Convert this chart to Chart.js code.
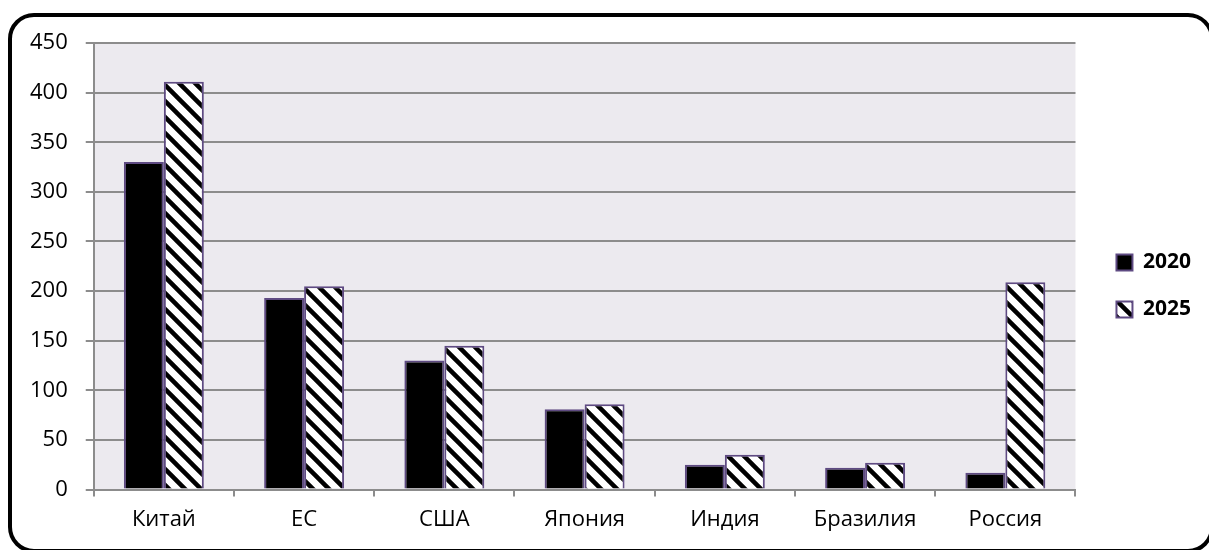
<!DOCTYPE html>
<html>
<head>
<meta charset="utf-8">
<script src="https://cdn.jsdelivr.net/npm/chart.js@4.4.1/dist/chart.umd.min.js"></script>
<style>
  html, body { margin: 0; padding: 0; background: #fff; overflow: hidden; }
  #wrap { position: relative; width: 1209px; height: 550px; }
  #frame {
    position: absolute; left: 8px; top: 13px; width: 1206px; height: 540px;
    box-sizing: border-box; border: 4px solid #000; border-radius: 26px;
    pointer-events: none;
  }
</style>
</head>
<body>
<div id="wrap">
  <canvas id="chart" width="1209" height="550"></canvas>
  <div id="frame"></div>
</div>
<script>
const categories = ["Китай", "ЕС", "США", "Япония", "Индия", "Бразилия", "Россия"];
const values2020 = [330, 193, 130, 81, 25, 22, 17];
const values2025 = [411, 205, 145, 86, 35, 27, 209];
const seriesLabels = ["2020", "2025"];

// downward diagonal hatch like Excel's "wide downward diagonal"
function makeHatch() {
  const c = document.createElement("canvas");
  c.width = 16;
  c.height = 16;
  const g = c.getContext("2d");
  g.fillStyle = "#fff";
  g.fillRect(0, 0, 16, 16);
  g.strokeStyle = "#000";
  g.lineWidth = 4.5;
  g.beginPath();
  for (let k = -16; k <= 16; k += 16) {
    g.moveTo(k - 4, -4);
    g.lineTo(k + 20, 20);
  }
  g.stroke();
  return g.createPattern(c, "repeat");
}

const plotBg = {
  id: "plotBg",
  beforeDraw(chart) {
    const { ctx, chartArea: a } = chart;
    ctx.save();
    ctx.fillStyle = "#ECEAEF";
    ctx.fillRect(a.left, a.top, a.right - a.left, a.bottom - a.top);
    ctx.restore();
  },
};

// nudge the legend a bit away from the plot, like the original
const legendShift = {
  id: "legendShift",
  afterLayout(chart) {
    const lg = chart.legend;
    lg.left += 15;
    lg.right += 15;
    lg.top -= 7;
    lg.bottom -= 7;
  },
};

const ctx = document.getElementById("chart").getContext("2d");
const hatch = makeHatch();

new Chart(ctx, {
  type: "bar",
  data: {
    labels: categories,
    datasets: [
      {
        label: seriesLabels[0],
        data: values2020,
        backgroundColor: "#000",
        borderColor: "#5E4A82",
        borderWidth: 2,
        categoryPercentage: 0.57,
        barPercentage: 1,
      },
      {
        label: seriesLabels[1],
        data: values2025,
        backgroundColor: hatch,
        borderColor: "#5E4A82",
        borderWidth: 2,
        categoryPercentage: 0.57,
        barPercentage: 1,
      },
    ],
  },
  options: {
    responsive: false,
    animation: false,
    layout: { padding: { top: 43, right: 23, bottom: 7, left: 12 } },
    scales: {
      x: {
        grid: {
          offset: true,
          drawOnChartArea: false,
          drawTicks: true,
          tickLength: 7,
          color: "#8C8C8C",
          lineWidth: 2,
        },
        border: { color: "#8C8C8C", width: 2 },
        ticks: {
          color: "#000",
          padding: 10,
          font: { family: "'Open Sans', sans-serif", size: 22 },
        },
      },
      y: {
        min: 0,
        max: 450,
        ticks: {
          stepSize: 50,
          color: "#000",
          padding: 18,
          font: { family: "'Open Sans', sans-serif", size: 22 },
        },
        grid: { color: "#8C8C8C", lineWidth: 2, tickLength: 8 },
        border: { color: "#8C8C8C", width: 2 },
      },
    },
    plugins: {
      tooltip: { enabled: false },
      legend: {
        position: "right",
        labels: {
          boxWidth: 16,
          boxHeight: 16,
          padding: 26,
          color: "#000",
          font: { family: "'Open Sans', sans-serif", size: 21, weight: "bold" },
        },
      },
    },
  },
  plugins: [plotBg, legendShift],
});
</script>
</body>
</html>
